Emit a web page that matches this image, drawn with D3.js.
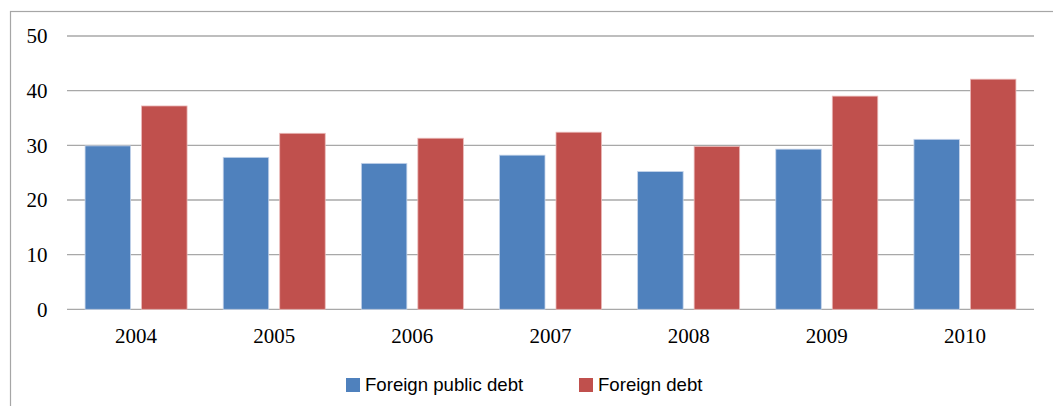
<!DOCTYPE html>
<html>
<head>
<meta charset="utf-8">
<script src="https://cdn.jsdelivr.net/npm/d3@7/dist/d3.min.js"></script>
<style>
  html, body { margin: 0; padding: 0; background: #fff; }
  svg { display: block; }
</style>
</head>
<body>
<svg id="chart" width="1053" height="406"></svg>
<script>
// Chart data
const years = ["2004", "2005", "2006", "2007", "2008", "2009", "2010"];
const foreignPublicDebt = [29.9, 27.8, 26.7, 28.2, 25.2, 29.3, 31.1];
const foreignDebt = [37.2, 32.2, 31.3, 32.4, 29.8, 39.0, 42.1];
const yTicks = [0, 10, 20, 30, 40, 50];
const seriesNames = ["Foreign public debt", "Foreign debt"];
const seriesColors = ["#4F81BD", "#C0504D"];

const svg = d3.select("#chart");
const W = 1053, H = 406;
const plot = { left: 67, right: 1034, top: 36, bottom: 309.3 };
const serif = "'Liberation Serif', 'Times New Roman', serif";
const sans = "'Liberation Sans', Arial, sans-serif";

// Outer chart-area frame
svg.append("rect")
  .attr("x", 10.5).attr("y", 11.5)
  .attr("width", W + 10).attr("height", H + 10)
  .attr("fill", "none").attr("stroke", "#a6a6a6").attr("stroke-width", 1.2);

const x = d3.scaleBand().domain(years).range([plot.left, plot.right]).paddingInner(0).paddingOuter(0);
const y = d3.scaleLinear().domain([0, 50]).range([plot.bottom, plot.top]);

// Horizontal gridlines
svg.append("g")
  .selectAll("line")
  .data(yTicks)
  .join("line")
  .attr("x1", plot.left).attr("x2", plot.right)
  .attr("y1", d => y(d)).attr("y2", d => y(d))
  .attr("stroke", "#a8a8a8").attr("stroke-width", 1.3);

// Y axis labels
const yAxis = d3.axisLeft(y).tickValues(yTicks).tickSize(0).tickPadding(0).tickFormat(d3.format("d"));
const gy = svg.append("g").attr("transform", `translate(${plot.left - 19.5},0)`).call(yAxis);
gy.select(".domain").remove();
gy.attr("font-family", null).attr("font-size", null);
gy.selectAll("text")
  .style("font-family", serif)
  .style("font-size", "21px")
  .attr("fill", "#000");

// Bars: two series per year
const barW = 45.5, gap = 11;
const sub = d3.scaleOrdinal().domain([0, 1]).range([-(gap / 2 + barW), gap / 2]);
const series = [foreignPublicDebt, foreignDebt];

series.forEach((vals, si) => {
  svg.append("g")
    .selectAll("rect")
    .data(vals)
    .join("rect")
    .attr("x", (d, i) => x(years[i]) + x.bandwidth() / 2 + sub(si))
    .attr("y", d => y(d))
    .attr("width", barW)
    .attr("height", d => y(0) - y(d))
    .attr("fill", seriesColors[si])
    .attr("stroke", si === 0 ? "#c5d4ea" : "#eab9b8")
    .attr("stroke-width", 0.8);
});

// X axis labels
const xAxis = d3.axisBottom(x).tickSize(0).tickPadding(0);
const gx = svg.append("g").attr("transform", `translate(0,${plot.bottom + 19})`).call(xAxis);
gx.select(".domain").remove();
gx.attr("font-family", null).attr("font-size", null);
gx.selectAll("text")
  .style("font-family", serif)
  .style("font-size", "21px")
  .attr("fill", "#000");

// Legend
const legendX = [346, 579];
const legend = svg.append("g");
seriesNames.forEach((name, i) => {
  legend.append("rect")
    .attr("x", legendX[i]).attr("y", 378)
    .attr("width", 14).attr("height", 14)
    .attr("fill", seriesColors[i]);
  legend.append("text")
    .attr("x", legendX[i] + 19).attr("y", 391)
    .style("font-family", sans)
    .style("font-size", "18.6px")
    .attr("fill", "#000")
    .text(name);
});
</script>
</body>
</html>
